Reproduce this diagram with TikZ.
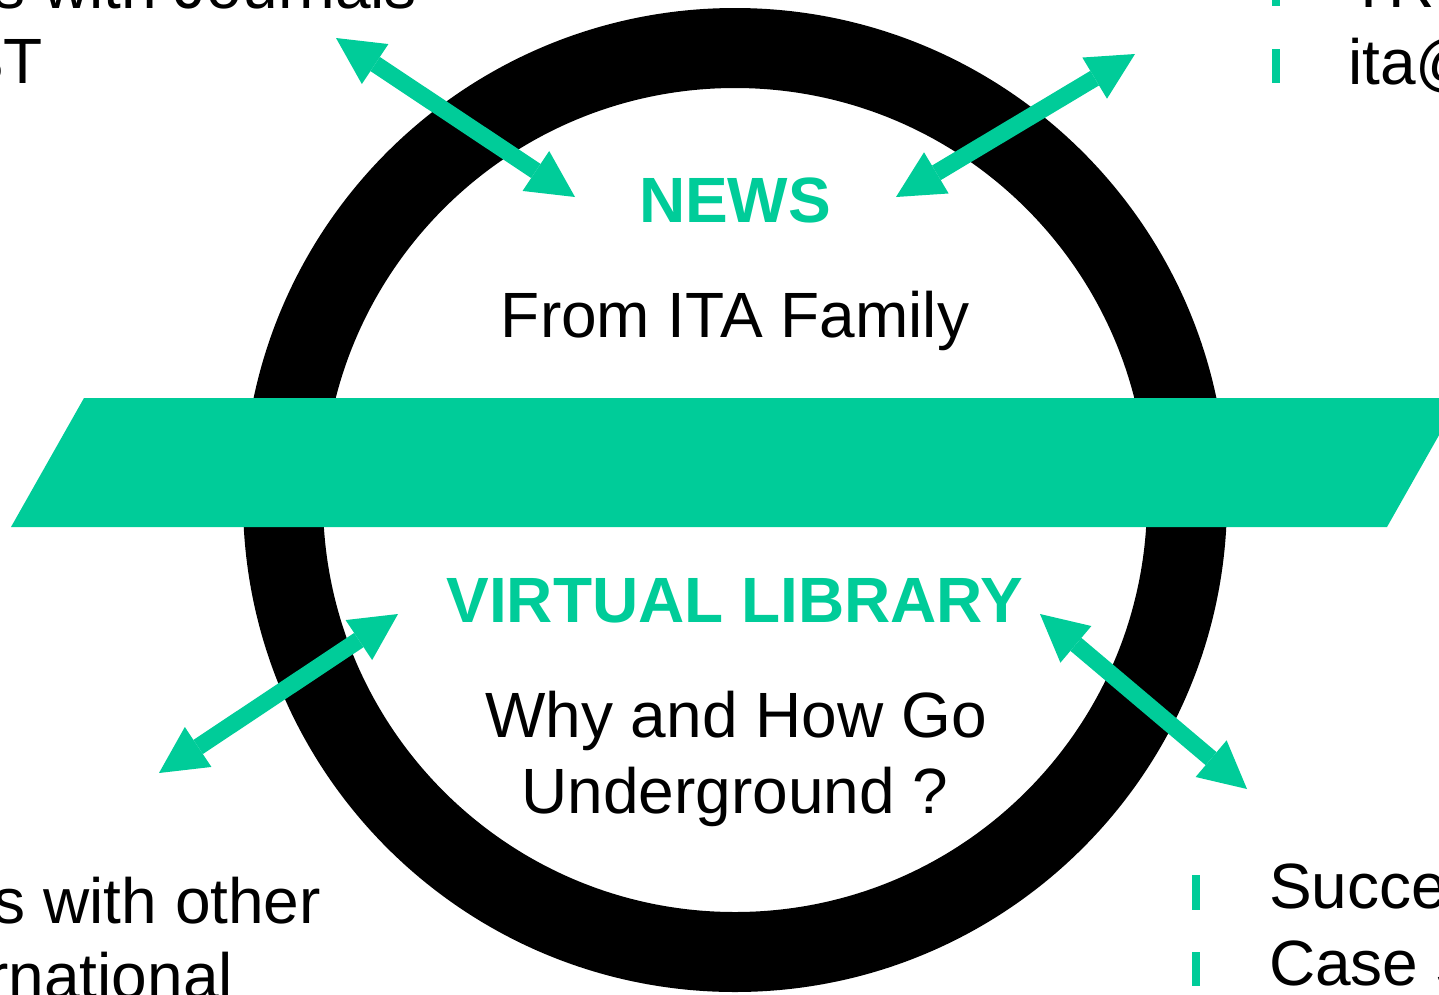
\documentclass[tikz,border=0pt]{standalone}
\usepackage{fontspec}
\setmainfont{Liberation Sans}
\usetikzlibrary{arrows.meta}
\definecolor{itagreen}{RGB}{0,204,153}
\begin{document}
\begin{tikzpicture}[x=1pt,y=-1pt,
  txt/.style={inner sep=0pt, outer sep=0pt, font=\fontsize{64}{75}\selectfont, anchor=base},
  btxt/.style={txt, font=\fontsize{64}{75}\selectfont\bfseries, text=itagreen},
  ring/.style={draw=black, line width=80pt},
  band/.style={fill=itagreen},
  bullet/.style={fill=itagreen},
  dblarrow/.style={draw=itagreen, line width=17pt,
    {Triangle[length=47pt,width=48pt,line width=0pt]}-{Triangle[length=47pt,width=48pt,line width=0pt]}}]
\useasboundingbox (0,0) rectangle (1439,994);
\clip (0,0) rectangle (1439,994);
% ring
\path[ring] (735,500) circle[radius=452];
% band
\path[band] (84,398) -- (1460,398) -- (1387,527) -- (11,527) -- cycle;
% arrow end points
\coordinate (a1o) at (336,38);
\coordinate (a1i) at (575,197);
\coordinate (a2o) at (1135,54);
\coordinate (a2i) at (896,197);
\coordinate (a3i) at (398,614);
\coordinate (a3o) at (159,773);
\coordinate (a4i) at (1040,614);
\coordinate (a4o) at (1247,789);
\path[dblarrow] (a1o) -- (a1i);
\path[dblarrow] (a2o) -- (a2i);
\path[dblarrow] (a3i) -- (a3o);
\path[dblarrow] (a4i) -- (a4o);
% centre texts
\node[btxt] (news) at (735,222) {NEWS};
\node[txt] (from) at (735,337) {From ITA Family};
\node[btxt] (vlib) at (735,622) {VIRTUAL LIBRARY};
\node[txt] (why) at (736,737) {Why and How Go};
\node[txt] (under) at (735,813) {Underground ?};
% top-left
\node[txt, anchor=base east] (tl1) at (417,8) {Partnerships with Journals};
\node[txt, anchor=base east] (tl2) at (43,83) {TUST};
% top-right
\path[bullet] (1272,-28) rectangle (1280,6);
\path[bullet] (1272,49) rectangle (1280,83);
\node[txt, anchor=base west] (tr1) at (1349,7) {TRIBUNE};
\node[txt, anchor=base west] (tr2) at (1348,84) {ita@ita-aites.org};
% bottom-left
\node[txt, anchor=base east] (bl1) at (321,923) {Partnerships with other};
\node[txt, anchor=base east] (bl2) at (233,998) {International};
% bottom-right
\path[bullet] (1192,875) rectangle (1200,910);
\path[bullet] (1192,952) rectangle (1200,986);
\node[txt, anchor=base west] (br1) at (1269,908) {Success stories};
\node[txt, anchor=base west] (br2) at (1269,985) {Case studies};
\end{tikzpicture}
\end{document}
